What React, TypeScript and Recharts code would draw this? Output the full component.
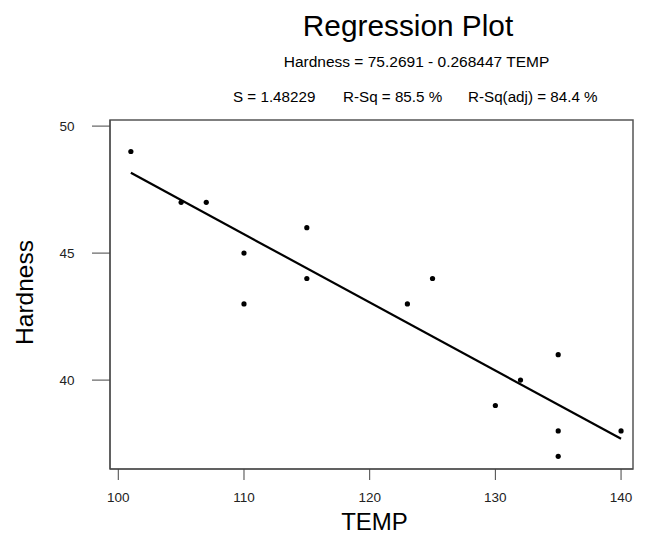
import { ComposedChart, Scatter, Line, XAxis, YAxis, ReferenceArea } from "recharts";

const temp = [101, 105, 107, 110, 110, 115, 115, 123, 125, 130, 132, 135, 135, 135, 140];
const hardness = [49, 47, 47, 45, 43, 46, 44, 43, 44, 39, 40, 41, 38, 37, 38];
const fitTemp = [101, 140];
const fitHardness = [48.16, 37.69];
const xTicks = [100, 110, 120, 130, 140];
const yTicks = [40, 45, 50];

const points = temp.map((t, i) => ({ x: t, y: hardness[i] }));
const fit = fitTemp.map((t, i) => ({ x: t, y: fitHardness[i] }));

const X_DOMAIN: [number, number] = [99.34, 140.95];
const Y_DOMAIN: [number, number] = [36.5, 50.24];
const FONT = "'Liberation Sans', Arial, sans-serif";

const Dot = (props: any) => <circle cx={props.cx} cy={props.cy} r={2.6} fill="#000" />;

export default function App() {
  return (
    <div style={{ position: "absolute", left: 0, top: 0, width: 645, height: 534, background: "#fff", fontFamily: FONT }}>
      <ComposedChart width={645} height={534} margin={{ top: 120, right: 12, left: 50, bottom: 24 }}>
        <XAxis
          type="number"
          dataKey="x"
          domain={X_DOMAIN}
          ticks={xTicks}
          allowDataOverflow
          height={41}
          tickSize={11}
          tickMargin={12}
          stroke="#444"
          tick={{ fontSize: 13.5, fill: "#222", fontFamily: FONT }}
        />
        <YAxis
          type="number"
          dataKey="y"
          domain={Y_DOMAIN}
          ticks={yTicks}
          allowDataOverflow
          width={60}
          tickSize={18}
          tickMargin={17.5}
          stroke="#444"
          tick={{ fontSize: 13.5, fill: "#222", fontFamily: FONT }}
        />
        <ReferenceArea x1={X_DOMAIN[0]} x2={X_DOMAIN[1]} y1={Y_DOMAIN[0]} y2={Y_DOMAIN[1]} fill="none" stroke="#555" strokeWidth={1.5} />
        <Line data={fit} dataKey="y" stroke="#000" strokeWidth={2.2} dot={false} isAnimationActive={false} />
        <Scatter data={points} dataKey="y" shape={<Dot />} isAnimationActive={false} />
      </ComposedChart>
      <svg width={645} height={534} style={{ position: "absolute", left: 0, top: 0, pointerEvents: "none" }} fontFamily={FONT}>
        <text x={408} y={36} fontSize={29.8} textAnchor="middle" fill="#000">Regression Plot</text>
        <text x={416.5} y={67} fontSize={15.5} textAnchor="middle" fill="#000">Hardness = 75.2691 - 0.268447 TEMP</text>
        <text x={233} y={101.5} fontSize={15.2} fill="#000">S = 1.48229</text>
        <text x={343} y={101.5} fontSize={15.2} fill="#000">R-Sq = 85.5 %</text>
        <text x={468} y={101.5} fontSize={15.2} fill="#000">R-Sq(adj) = 84.4 %</text>
        <text x={33} y={292.5} fontSize={24.5} textAnchor="middle" fill="#000" transform="rotate(-90 33 292.5)">Hardness</text>
        <text x={374.5} y={530} fontSize={24} textAnchor="middle" fill="#000">TEMP</text>
      </svg>
    </div>
  );
}
